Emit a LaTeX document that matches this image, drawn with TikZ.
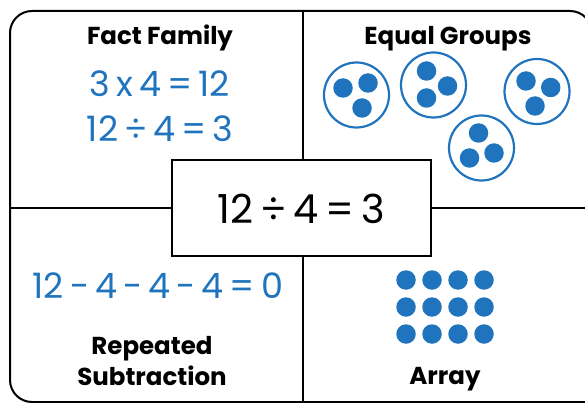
\documentclass[tikz,border=0pt]{standalone}
\usepackage{fontspec}
\setmainfont{Poppins}
\usetikzlibrary{positioning}
\definecolor{dotblue}{RGB}{31,116,189}
\newcommand\eqfont{\fontsize{35}{40}\selectfont\spaceskip=6pt plus 1pt\relax}
\newcommand\bigeqfont{\fontsize{40}{44}\selectfont\spaceskip=7pt plus 1pt\relax}

\begin{document}
\begin{tikzpicture}[x=1pt,y=-1pt,
  frame/.style={draw=black,line width=2pt},
  title/.style={font=\fontsize{24.5}{32}\selectfont\bfseries,align=center,inner sep=0pt,anchor=base},
  eqn/.style={font=\eqfont,text=dotblue,inner sep=0pt,anchor=base},
  group/.style={circle,draw=dotblue,line width=2.2pt,minimum size=65pt,inner sep=0pt},
  dot/.style={circle,fill=dotblue,minimum size=19.5pt,inner sep=0pt}]
\useasboundingbox (0,0) rectangle (585,403);
% outer frame and quarter lines
\draw[frame,rounded corners=22pt] (600,402) -- (10,402) -- (10,11) -- (592,11) -- (592,420);
\draw[frame] (303,11) -- (303,403);
\draw[frame] (10,208) -- (592,208);
\node[frame,fill=white,minimum width=259pt,minimum height=96pt,inner sep=0pt] (main) at (301.5,208) {};
\node[font=\bigeqfont,inner sep=0pt,anchor=base] (mainEq) at (301.5,223) {12 ÷ 4 = 3};
% fact family
\node[title] (fact) at (160,45) {Fact Family};
\node[eqn] (mult) at (160,97) {3 x 4 = 12};
\node[eqn] (divi) at (160,142) {12 ÷ 4 = 3};
% equal groups
\node[title] (equal) at (448,45) {Equal Groups};
\node[group] (g1) at (356.5,95) {};
\node[group] (g2) at (433.5,85) {};
\node[group] (g3) at (537,91.5) {};
\node[group] (g4) at (481.5,148) {};
\foreach \g/\ax/\ay/\bx/\by/\cx/\cy in {g1/-13.5/-7/11.5/-12/5.5/13, g2/-7/-14/14/1/-7/13,
    g3/-11/-10.5/13.7/-4/-2/14.5, g4/-3/-15/-12/10/12.5/5}{
  \node[dot] at ([shift={(\ax,\ay)}]\g) {};
  \node[dot] at ([shift={(\bx,\by)}]\g) {};
  \node[dot] at ([shift={(\cx,\cy)}]\g) {};
}
% repeated subtraction
\node[eqn] (subt) at (158,298) {12 - 4 - 4 - 4 = 0};
\node[title] (rep) at (152,354) {Repeated};
\node[title] (sub) at (152,385) {Subtraction};
% array
\foreach \c in {0,...,3}
  \foreach \r in {0,...,2}
    \node[dot] (a\c\r) at (406+26*\c,280+27*\r) {};
\node[title] (arr) at (445,384) {Array};
\end{tikzpicture}
\end{document}
